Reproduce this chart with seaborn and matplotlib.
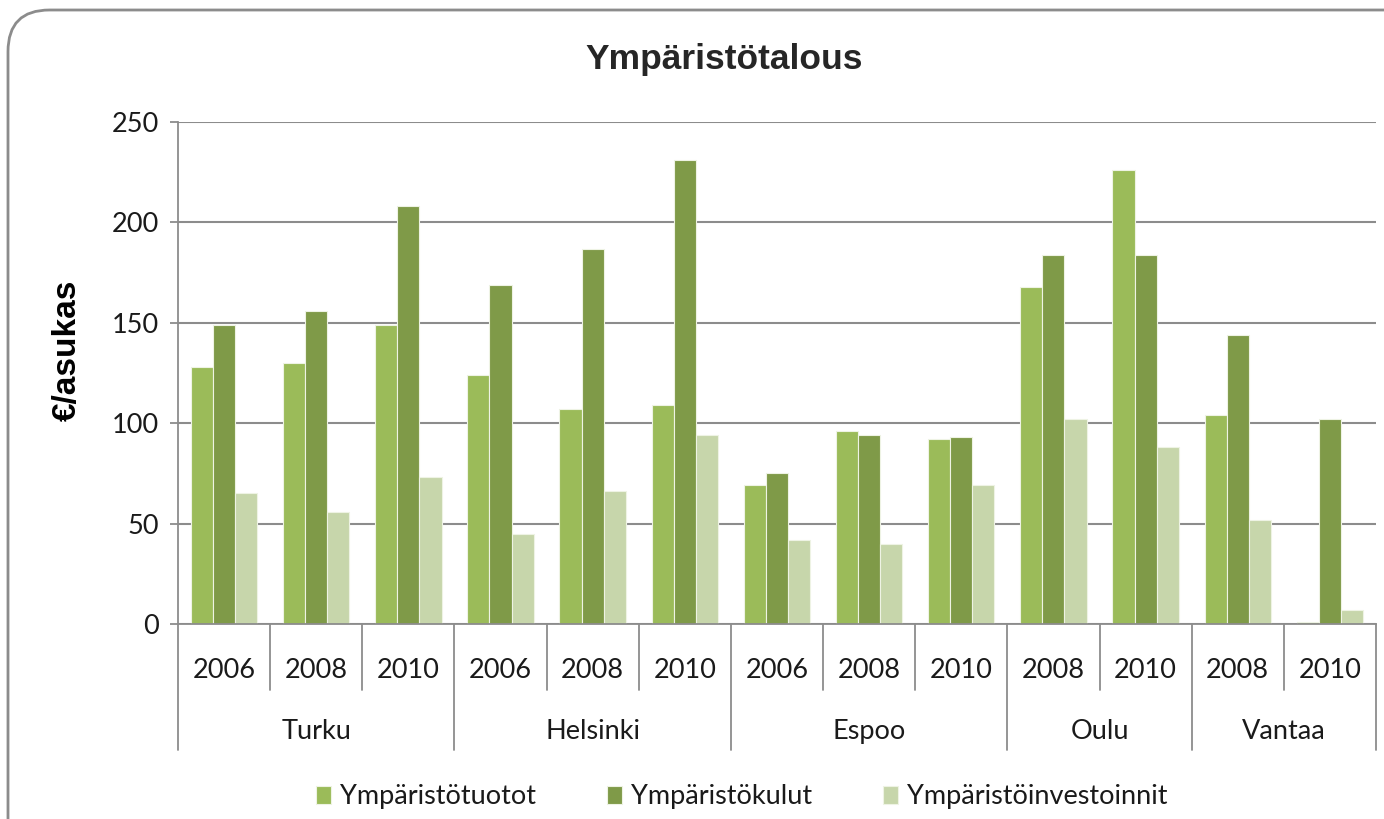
import pandas as pd
import matplotlib.pyplot as plt
import seaborn as sns
from matplotlib.patches import FancyBboxPatch

cities = ["Turku", "Turku", "Turku", "Helsinki", "Helsinki", "Helsinki",
          "Espoo", "Espoo", "Espoo", "Oulu", "Oulu", "Vantaa", "Vantaa"]
years = ["2006", "2008", "2010", "2006", "2008", "2010",
         "2006", "2008", "2010", "2008", "2010", "2008", "2010"]

tuotot = [128, 130, 149, 124, 107, 109, 69, 96, 92, 168, 226, 104, 1]
kulut = [149, 156, 208, 169, 187, 231, 75, 94, 93, 184, 184, 144, 102]
investoinnit = [65, 56, 73, 45, 66, 94, 42, 40, 69, 102, 88, 52, 7]

series_names = ["Ympäristötuotot", "Ympäristökulut", "Ympäristöinvestoinnit"]
colors = ["#9BBB59", "#7F9A48", "#C7D6AB"]

TICK_FONT = "Lato"
HEAD_FONT = "Liberation Sans"
TEXT_COLOR = "#1a1a1a"
FS = 19.5


def build_frame():
    keys = [f"{c} {y}" for c, y in zip(cities, years)]
    rows = []
    for name, vals in zip(series_names, [tuotot, kulut, investoinnit]):
        for k, v in zip(keys, vals):
            rows.append({"key": k, "series": name, "value": v})
    return pd.DataFrame(rows), keys


def draw_category_table(ax):
    trans = ax.get_xaxis_transform()
    line_kw = dict(color="#8c8c8c", lw=1.3, transform=trans, clip_on=False)

    # year separators + labels
    for i, y in enumerate(years):
        ax.text(i, -0.092, y, transform=trans, ha="center", va="center",
                fontsize=FS, family=TICK_FONT, color=TEXT_COLOR)
    for i in range(len(years) + 1):
        new_city = i == 0 or i == len(years) or cities[i] != cities[i - 1]
        bottom = -0.252 if new_city else -0.131
        ax.plot([i - 0.5, i - 0.5], [0, bottom], **line_kw)

    # city labels
    start = 0
    for i in range(1, len(cities) + 1):
        if i == len(cities) or cities[i] != cities[start]:
            mid = (start + i - 1) / 2
            ax.text(mid, -0.214, cities[start], transform=trans, ha="center",
                    va="center", fontsize=FS, family=TICK_FONT, color=TEXT_COLOR)
            start = i


def main():
    sns.set_theme(style="white")
    plt.rcParams["font.family"] = [TICK_FONT, "DejaVu Sans"]

    df, keys = build_frame()

    fig = plt.figure(figsize=(13.84, 8.19), dpi=100)
    ax = fig.add_axes([0.1286, 0.2381, 0.8656, 0.6129])

    sns.barplot(data=df, x="key", y="value", hue="series", order=keys,
                hue_order=series_names, palette=colors, saturation=1,
                width=0.72, edgecolor="#eef3e4", linewidth=0.8, ax=ax)

    ax.set_ylim(0, 250)
    ax.set_xlim(-0.5, len(keys) - 0.5)
    ax.set_yticks(range(0, 251, 50))
    ax.yaxis.grid(True, color="#8c8c8c", lw=1.5)
    ax.set_axisbelow(True)
    ax.set_xticks(range(len(keys)))
    ax.set_xticklabels([])
    ax.tick_params(axis="x", length=0)
    ax.tick_params(axis="y", length=6, width=1.3, color="#8c8c8c",
                   labelsize=FS, labelcolor=TEXT_COLOR, pad=8, left=True)
    for lab in ax.get_yticklabels():
        lab.set_family(TICK_FONT)
    for side in ["top", "right"]:
        ax.spines[side].set_visible(False)
    for side in ["left", "bottom"]:
        ax.spines[side].set_color("#8c8c8c")
        ax.spines[side].set_linewidth(1.3)
    ax.set_xlabel("")
    ax.set_ylabel("€/asukas", family=HEAD_FONT, fontweight="bold",
                  fontsize=24, color="black", va="center")
    ax.yaxis.set_label_coords(-0.092, 0.546)

    draw_category_table(ax)

    handles, labels = ax.get_legend_handles_labels()
    ax.legend_.remove()
    leg = fig.legend(handles, labels, loc="center", bbox_to_anchor=(0.536, 0.027),
                     ncol=3, frameon=False, fontsize=FS, handlelength=0.55,
                     handleheight=0.65, handletextpad=0.35, columnspacing=2.6)
    for t in leg.get_texts():
        t.set_color(TEXT_COLOR)

    fig.text(0.523, 0.927, "Ympäristötalous", ha="center", va="center",
             family=HEAD_FONT, fontweight="bold", fontsize=25.5)

    frame = FancyBboxPatch((8 / 1384, -0.1), 1.2, 0.1 + 1 - 10 / 819,
                           boxstyle="round,pad=0,rounding_size=0.03",
                           transform=fig.transFigure, fill=False,
                           edgecolor="#8c8c8c", lw=2, mutation_aspect=1.69)
    fig.patches.append(frame)

    fig.savefig("out.png", dpi=100)
    plt.close(fig)


if __name__ == "__main__":
    main()
